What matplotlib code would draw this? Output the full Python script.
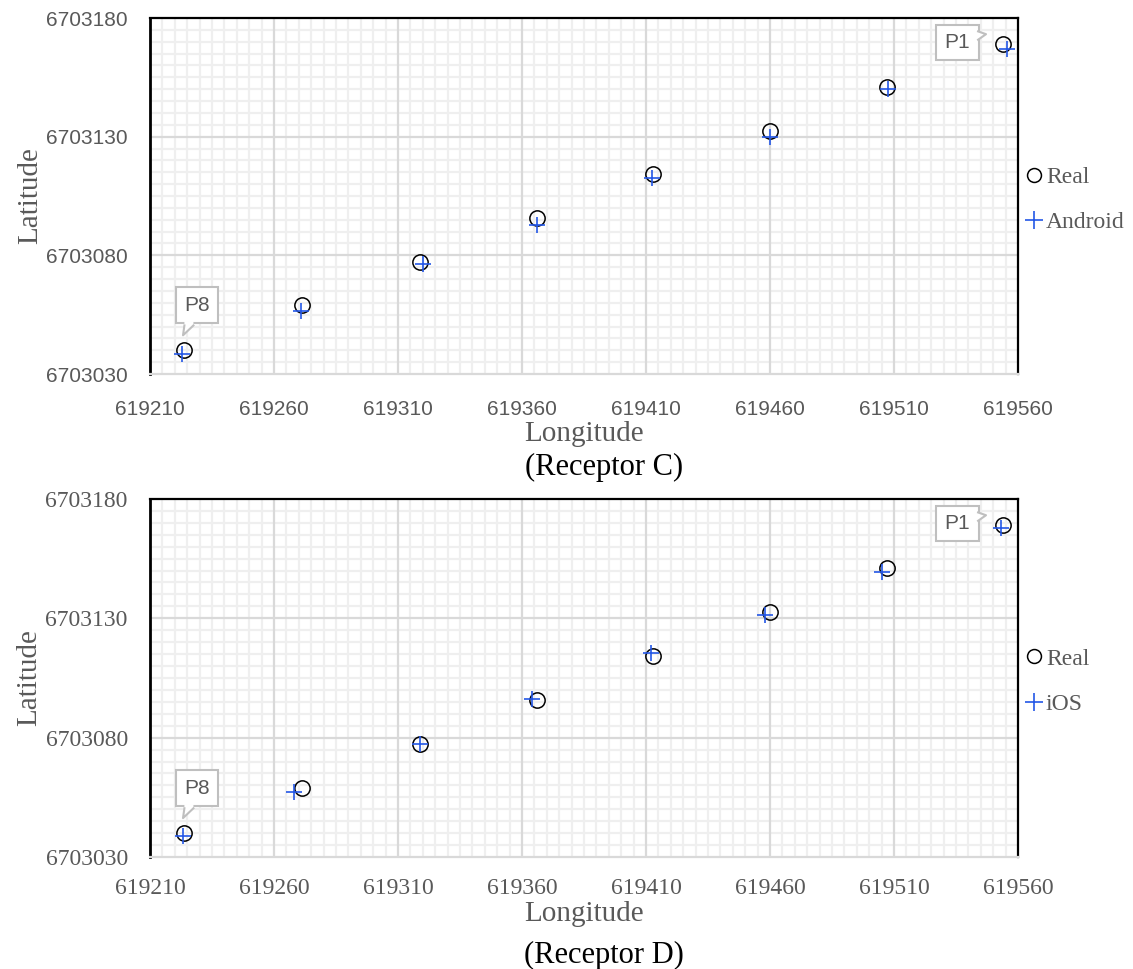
import numpy as np
import matplotlib.pyplot as plt
import matplotlib.transforms as mtransforms
from matplotlib.lines import Line2D
from matplotlib.patches import Polygon

# Datos
points = ["P1", "P2", "P3", "P4", "P5", "P6", "P7", "P8"]
real_x = [619554.1, 619507.0, 619460.2, 619413.0, 619366.0, 619318.9, 619271.2, 619223.7]
real_y = [6703169.1, 6703151.0, 6703132.5, 6703114.3, 6703095.8, 6703077.4, 6703058.9, 6703040.0]

android_x = [619555.4, 619507.5, 619459.9, 619412.5, 619366.2, 619320.1, 619270.8, 619223.0]
android_y = [6703166.8, 6703150.0, 6703129.7, 6703112.5, 6703092.7, 6703076.4, 6703056.5, 6703038.3]

ios_x = [619553.0, 619505.0, 619458.1, 619411.9, 619364.0, 619318.9, 619268.2, 619223.4]
ios_y = [6703167.7, 6703149.5, 6703131.5, 6703115.3, 6703096.0, 6703077.2, 6703057.2, 6703038.8]

x_lim = (619210, 619560)
y_lim = (6703030, 6703180)
x_ticks = np.arange(x_lim[0], x_lim[1] + 1, 50)
y_ticks = np.arange(y_lim[0], y_lim[1] + 1, 50)

GRAY_TXT = "#595959"
BOX_EDGE = "#bfbfbf"
BLUE = "#2457e6"
SERIF = "Liberation Serif"
SANS = "Liberation Sans"

fig = plt.figure(figsize=(11.33, 9.69), dpi=100)
ax_c = fig.add_axes([0.1324, 0.614, 0.7661, 0.3674])
ax_d = fig.add_axes([0.1324, 0.1156, 0.7661, 0.3695])


def minor_ticks(lim):
    vals = np.arange(lim[0], lim[1] + 1, 5)
    return vals[(vals - lim[0]) % 50 != 0]


def style_axes(ax, tick_font, tick_size, xpad, xlabelpad):
    ax.set_xlim(*x_lim)
    ax.set_ylim(*y_lim)
    ax.set_xticks(x_ticks, [str(v) for v in x_ticks], fontfamily=tick_font,
                  fontsize=tick_size, color=GRAY_TXT)
    ax.set_yticks(y_ticks, [str(v) for v in y_ticks], fontfamily=tick_font,
                  fontsize=tick_size, color=GRAY_TXT)
    ax.set_xticks(minor_ticks(x_lim), minor=True)
    ax.set_yticks(minor_ticks(y_lim), minor=True)
    # rejilla menor de fondo, la mayor encima
    ax.grid(which="minor", color="#efefef", linewidth=1.6)
    ax.set_axisbelow(True)
    for v in x_ticks[1:-1]:
        ax.axvline(v, color="#d9d9d9", linewidth=1.6, zorder=1)
    for v in y_ticks[1:-1]:
        ax.axhline(v, color="#d9d9d9", linewidth=1.6, zorder=1)
    ax.tick_params(which="both", length=0)
    ax.tick_params(axis="y", pad=16)
    ax.tick_params(axis="x", pad=xpad)
    for side in ["left", "top", "right"]:
        ax.spines[side].set_color("black")
        ax.spines[side].set_linewidth(1.6)
    ax.spines["left"].set_linewidth(2.0)
    ax.spines["bottom"].set_color("#d9d9d9")
    ax.spines["bottom"].set_linewidth(1.6)
    ax.set_xlabel("Longitude", fontfamily=SERIF, fontsize=21, color=GRAY_TXT,
                  labelpad=xlabelpad)
    ax.set_ylabel("Latitude", fontfamily=SERIF, fontsize=21, color=GRAY_TXT, labelpad=2)


def callout(ax, label, x, y, dx, dy, tail, inward):
    ax.annotate(label, xy=(x, y), xytext=(dx, dy), textcoords="offset points",
                ha="center", va="center", fontfamily=SANS, fontsize=15, color=GRAY_TXT,
                bbox=dict(boxstyle="square,pad=0.4", fc="white", ec=BOX_EDGE, lw=1.5),
                zorder=5, annotation_clip=False)
    # cola del globo, en puntos respecto al punto de datos
    tr = mtransforms.Affine2D().scale(fig.dpi / 72) + \
        mtransforms.ScaledTranslation(x, y, ax.transData)
    b1, tip, b2 = [np.array(v, dtype=float) for v in tail]
    inw = np.array(inward, dtype=float)
    fill = Polygon([b1 + inw, b1, tip, b2, b2 + inw], closed=True, fc="white",
                   ec="none", transform=tr, zorder=6, clip_on=False)
    ax.add_patch(fill)
    ax.add_line(Line2D([b1[0], tip[0], b2[0]], [b1[1], tip[1], b2[1]], color=BOX_EDGE,
                       linewidth=1.5, transform=tr, zorder=6, clip_on=False))


def draw_panel(ax, dev_x, dev_y, dev_name, tick_font, tick_size, xpad, xlabelpad,
               caption, cap_y):
    style_axes(ax, tick_font, tick_size, xpad, xlabelpad)
    ax.plot(real_x, real_y, linestyle="none", marker="o", markersize=11,
            markerfacecolor="none", markeredgecolor="black", markeredgewidth=1.1, zorder=3)
    ax.plot(dev_x, dev_y, linestyle="none", marker="+", markersize=12,
            color=BLUE, markeredgewidth=1.2, zorder=4)
    callout(ax, points[-1], real_x[-1], real_y[-1], 9.5, 32.4,
            [(0.3, 17.9), (-0.7, 10.8), (6.8, 17.9)], (0, 3))
    callout(ax, points[0], real_x[0], real_y[0], -33, 1.1,
            [(-18.2, 9.0), (-12.5, 7.0), (-18.2, 3.0)], (-3, 0))
    ax.text(0.523, cap_y, caption, transform=ax.transAxes, ha="center", va="center",
            fontfamily=SERIF, fontsize=22, color="black")
    handles = [
        Line2D([], [], linestyle="none", marker="o", markersize=10, markerfacecolor="none",
               markeredgecolor="black", markeredgewidth=1.1),
        Line2D([], [], linestyle="none", marker="+", markersize=13, color=BLUE,
               markeredgewidth=1.2),
    ]
    leg = ax.legend(handles, ["Real", dev_name], loc="center left",
                    bbox_to_anchor=(1.005, 0.49), frameon=False, handlelength=0.6,
                    handletextpad=0.2, labelspacing=1.0, borderaxespad=0.0,
                    borderpad=0.2, prop={"family": SERIF, "size": 17})
    for t in leg.get_texts():
        t.set_color(GRAY_TXT)


draw_panel(ax_c, android_x, android_y, "Android", SANS, 15, 19, 1.0, "(Receptor C)", -0.262)
draw_panel(ax_d, ios_x, ios_y, "iOS", SERIF, 17, 15, 1.5, "(Receptor D)", -0.275)

plt.savefig("out.png", dpi=100)
